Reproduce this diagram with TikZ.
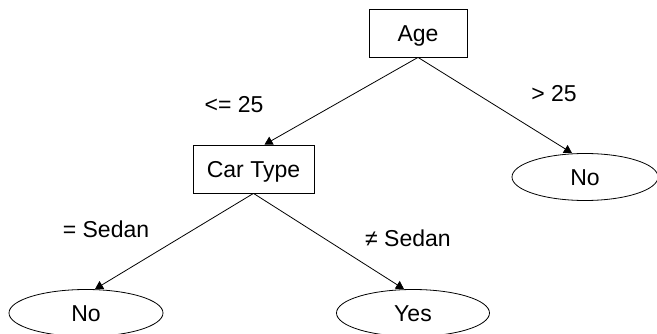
\documentclass[tikz,border=0pt]{standalone}
\usepackage{fontspec}
\setmainfont{Liberation Sans}
\usetikzlibrary{shapes.geometric,arrows.meta}
\tikzset{
  x=1pt, y=-1pt,
  every node/.style={font=\fontsize{23}{23}\selectfont, inner sep=0pt, text height=16.5pt, text depth=0pt},
  boxnode/.style={draw, rectangle, line width=0.8pt},
  leafnode/.style={draw, ellipse, line width=0.8pt},
  edge/.style={line width=0.8pt, -{Triangle[length=8pt,width=9pt]}},
  lbl/.style={}
}
\begin{document}
\begin{tikzpicture}
\useasboundingbox (0,0) rectangle (657,334);
\node[boxnode, minimum width=98pt, minimum height=48pt] (age) at (418,33) {Age};
\node[boxnode, minimum width=121pt, minimum height=48pt] (car) at (253.5,169) {Car Type};
\node[leafnode, minimum width=146pt, minimum height=47pt] (no1) at (585,177) {No};
\node[leafnode, minimum width=154pt, minimum height=47pt] (no2) at (86,313) {No};
\node[leafnode, minimum width=153pt, minimum height=47pt] (yes) at (413,313) {Yes};
\draw[edge] (age.south) -- ([xshift=11pt]car.north);
\draw[edge] (age.south) -- ([xshift=-13pt]no1.north);
\draw[edge] (car.south) -- ([xshift=9pt]no2.north);
\draw[edge] (car.south) -- ([xshift=-9pt]yes.north);
\node[lbl, anchor=base] (l1) at (234,113) {<= 25};
\node[lbl, anchor=base] (l2) at (554,102) {> 25};
\node[lbl, anchor=base] (l3) at (106,238) {= Sedan};
\node[lbl, anchor=base] (l4) at (408,247) {≠ Sedan};
\end{tikzpicture}
\end{document}
